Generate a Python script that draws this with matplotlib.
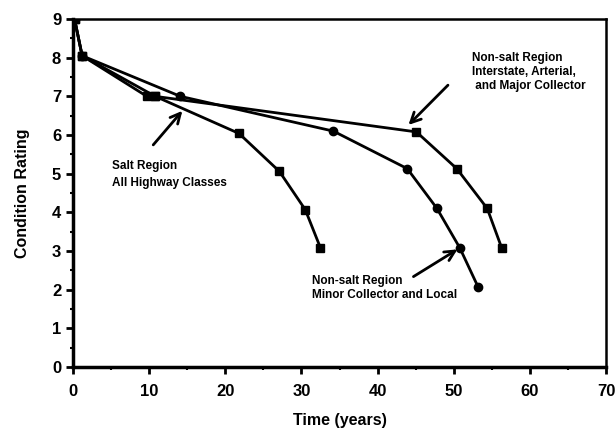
import numpy as np
import matplotlib as mpl
import matplotlib.pyplot as plt
from matplotlib.ticker import MultipleLocator

mpl.rcParams.update({
    "font.family": ["Liberation Sans", "DejaVu Sans"],
    "font.weight": "bold",
})

# deterioration curves: time (years) vs condition rating
salt_t = [0.2, 1.2, 9.7, 10.8, 21.8, 27.1, 30.5, 32.5]
salt_r = [9.0, 8.05, 7.0, 7.0, 6.04, 5.06, 4.07, 3.08]

major_t = [0.2, 1.2, 10.8, 45.1, 50.4, 54.4, 56.3]
major_r = [9.0, 8.05, 7.0, 6.08, 5.13, 4.1, 3.08]

minor_t = [0.2, 1.2, 14.1, 34.2, 43.9, 47.8, 50.8, 53.2]
minor_r = [9.0, 8.05, 7.0, 6.1, 5.13, 4.1, 3.08, 2.07]

x_ticks = [0, 10, 20, 30, 40, 50, 60, 70]
y_ticks = [0, 1, 2, 3, 4, 5, 6, 7, 8, 9]

fig = plt.figure(figsize=(6.15, 4.3), dpi=100)
ax = fig.add_axes([0.1187, 0.1465, 0.8667, 0.8093])

line_kw = dict(color="black", lw=2.0, ms=6, mec="black", mfc="black")
ax.plot(major_t, major_r, marker="s", **line_kw)
ax.plot(salt_t, salt_r, marker="s", **line_kw)
ax.plot(minor_t, minor_r, marker="o", **line_kw)

ax.set_xlim(0, 70)
ax.set_ylim(0, 9)
ax.set_xticks(x_ticks)
ax.set_yticks(y_ticks)
ax.xaxis.set_minor_locator(MultipleLocator(5))
ax.yaxis.set_minor_locator(MultipleLocator(0.5))
ax.tick_params(which="major", direction="out", length=5, width=2, labelsize=12)
ax.tick_params(which="minor", direction="out", length=2.5, width=1.5)
ax.tick_params(axis="x", pad=7)

for side in ["left", "bottom"]:
    ax.spines[side].set_linewidth(2.5)
for side in ["top", "right"]:
    ax.spines[side].set_linewidth(1.8)

ax.set_xlabel("Time (years)", fontsize=11.5, fontweight="bold", labelpad=10)
ax.set_ylabel("Condition Rating", fontsize=11.5, fontweight="bold", labelpad=16)

arrow_kw = dict(arrowstyle="->", lw=2.0, color="black", mutation_scale=18)
ax.annotate("", xy=(43.8, 6.21), xytext=(49.5, 7.34), arrowprops=arrow_kw)
ax.annotate("", xy=(14.6, 6.68), xytext=(10.3, 5.69), arrowprops=arrow_kw)
ax.annotate("", xy=(50.8, 3.08), xytext=(44.4, 2.3), arrowprops=arrow_kw)

txt_kw = dict(fontsize=8.5, fontweight="bold", ha="left", va="center")
ax.text(52.4, 7.63, "Non-salt Region\nInterstate, Arterial,\n and Major Collector",
        linespacing=1.25, **txt_kw)
ax.text(5.1, 4.98, "Salt Region\nAll Highway Classes", linespacing=1.5, **txt_kw)
ax.text(31.4, 2.04, "Non-salt Region\nMinor Collector and Local", linespacing=1.25, **txt_kw)

fig.savefig("out.png", dpi=100)
